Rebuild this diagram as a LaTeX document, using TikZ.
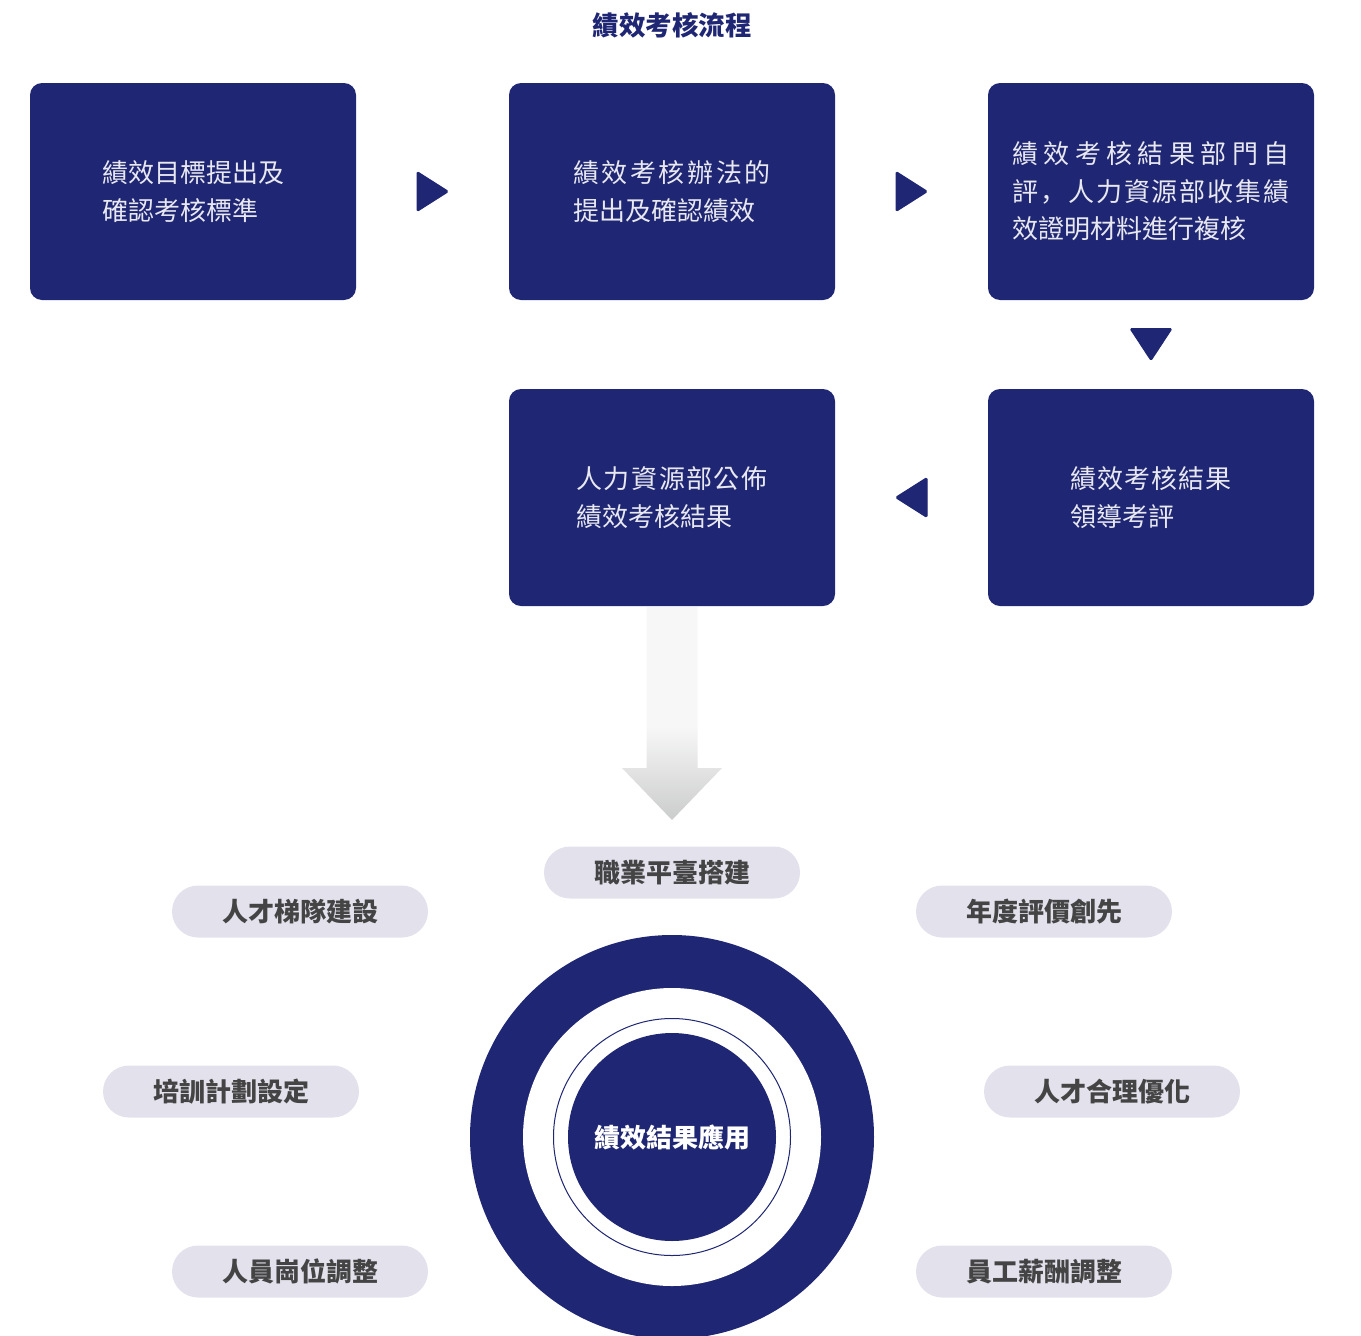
\documentclass[tikz,border=0pt]{standalone}
\usepackage{fontspec}
\setmainfont{Noto Sans CJK TC}
\newfontfamily\scfont{Noto Sans CJK SC}
\usetikzlibrary{calc}
\definecolor{navy}{HTML}{1F2673}
\definecolor{boxtext}{HTML}{E8E8F0}
\definecolor{pillfill}{HTML}{E3E1EC}
\definecolor{pilltext}{HTML}{444444}
\definecolor{arrowdark}{HTML}{CBCCCC}
\definecolor{arrowlight}{HTML}{F7F7F7}
\pgfdeclareverticalshading{arrowshade}{100bp}{color(0bp)=(arrowdark); color(25bp)=(arrowdark); color(47bp)=(arrowlight); color(100bp)=(arrowlight)}
\begin{document}
\begin{tikzpicture}[x=1pt,y=-1pt,
  stepbox/.style={fill=navy, draw=none, rounded corners=12pt, minimum width=326pt, minimum height=217pt, inner sep=0pt,
    text=boxtext, align=left, font=\fontsize{26}{38}\selectfont},
  pill/.style={fill=pillfill, draw=none, rounded corners=26pt, minimum width=256pt, minimum height=52pt, inner sep=0pt,
    text=pilltext, font=\fontsize{26}{30}\selectfont\bfseries},
  marker/.style={fill=navy, draw=navy, line width=1pt, line join=round, rounded corners=1.5pt}]
\useasboundingbox (0,0) rectangle (1361,1336);
\clip (0,0) rectangle (1361,1336);

% title
\node[text=navy, font=\fontsize{26.5}{30}\selectfont\bfseries] (title) at (672,25) {績效考核流程};

% process boxes
\node[stepbox] (b1) at (193,191.5) {績效目標提出及\\確認考核標準};
\node[stepbox] (b2) at (672,191.5)
  {\hbox to 198pt{績\hfill 效\hfill 考\hfill 核\hfill 辦\hfill 法\hfill 的}\\提出及確認績效};
\node[stepbox, font=\fontsize{26}{37.5}\selectfont] (b3) at (1151,191.5)
  {\hbox to 277pt{績\hfill 效\hfill 考\hfill 核\hfill 結\hfill 果\hfill 部\hfill 門\hfill 自}\\
   \hbox to 277pt{評\hfill {\scfont ，}\hfill 人\hfill 力\hfill 資\hfill 源\hfill 部\hfill 收\hfill 集\hfill 績}\\
   效證明材料進行複核};
\node[stepbox] (b4) at (672,497.5)
  {\hbox to 191pt{人\hfill 力\hfill 資\hfill 源\hfill 部\hfill 公\hfill 佈}\\績效考核結果};
\node[stepbox] (b5) at (1151,497.5)
  {\hbox to 162pt{績\hfill 效\hfill 考\hfill 核\hfill 結\hfill 果}\\領導考評};

% triangle markers
\path (b1.east) -- (b2.west) coordinate[pos=0.5] (t12);
\path (b2.east) -- (b3.west) coordinate[pos=0.5] (t23);
\path (b3.south) -- (b5.north) coordinate[pos=0.5] (t35);
\path (b5.west) -- (b4.east) coordinate[pos=0.5] (t54);
\fill[marker] ($(t12)+(-15.5,-20)$) -- ($(t12)+(16,0)$) -- ($(t12)+(-15.5,20)$) -- cycle;
\fill[marker] ($(t23)+(-15.5,-20)$) -- ($(t23)+(16,0)$) -- ($(t23)+(-15.5,20)$) -- cycle;
\fill[marker] ($(t35)+(-21,-16)$) -- ($(t35)+(21,-16)$) -- ($(t35)+(0,16)$) -- cycle;
\fill[marker] ($(t54)+(15.5,-20)$) -- ($(t54)+(-16,0)$) -- ($(t54)+(15.5,20)$) -- cycle;

% gradient arrow
\coordinate (as) at ($(b4.south)+(0,1)$);
\coordinate (atip) at (672,820);
\shade[shading=arrowshade] ($(as)+(-25.5,0)$) -- ($(as)+(25.5,0)$) -- ($(atip)+(25.5,-52)$) -- ($(atip)+(50,-52)$)
  -- (atip) -- ($(atip)+(-50,-52)$) -- ($(atip)+(-25.5,-52)$) -- cycle;

% application pills
\node[pill] (p1) at (672,872.5) {職業平臺搭建};
\node[pill] (p2) at (300,911.5) {人才梯隊建設};
\node[pill] (p3) at (1044,911.5) {年度評價創先};
\node[pill] (p4) at (231,1091.5) {培訓計劃設定};
\node[pill] (p5) at (1112,1091.5) {人才合理優化};
\node[pill] (p6) at (300,1271.5) {人員崗位調整};
\node[pill] (p7) at (1044,1271.5) {員工薪酬調整};

% concentric circles
\node[circle, fill=navy, draw=none, minimum size=404pt, inner sep=0pt] (outer) at (672,1137) {};
\node[circle, fill=white, draw=none, minimum size=298pt, inner sep=0pt] (ring) at (outer.center) {};
\node[circle, draw=navy, line width=1pt, minimum size=237pt, inner sep=0pt] (thin) at (outer.center) {};
\node[circle, fill=navy, draw=none, minimum size=208pt, inner sep=0pt, text=white,
  font=\fontsize{26}{30}\selectfont\bfseries] (core) at (outer.center) {績效結果應用};
\end{tikzpicture}
\end{document}
